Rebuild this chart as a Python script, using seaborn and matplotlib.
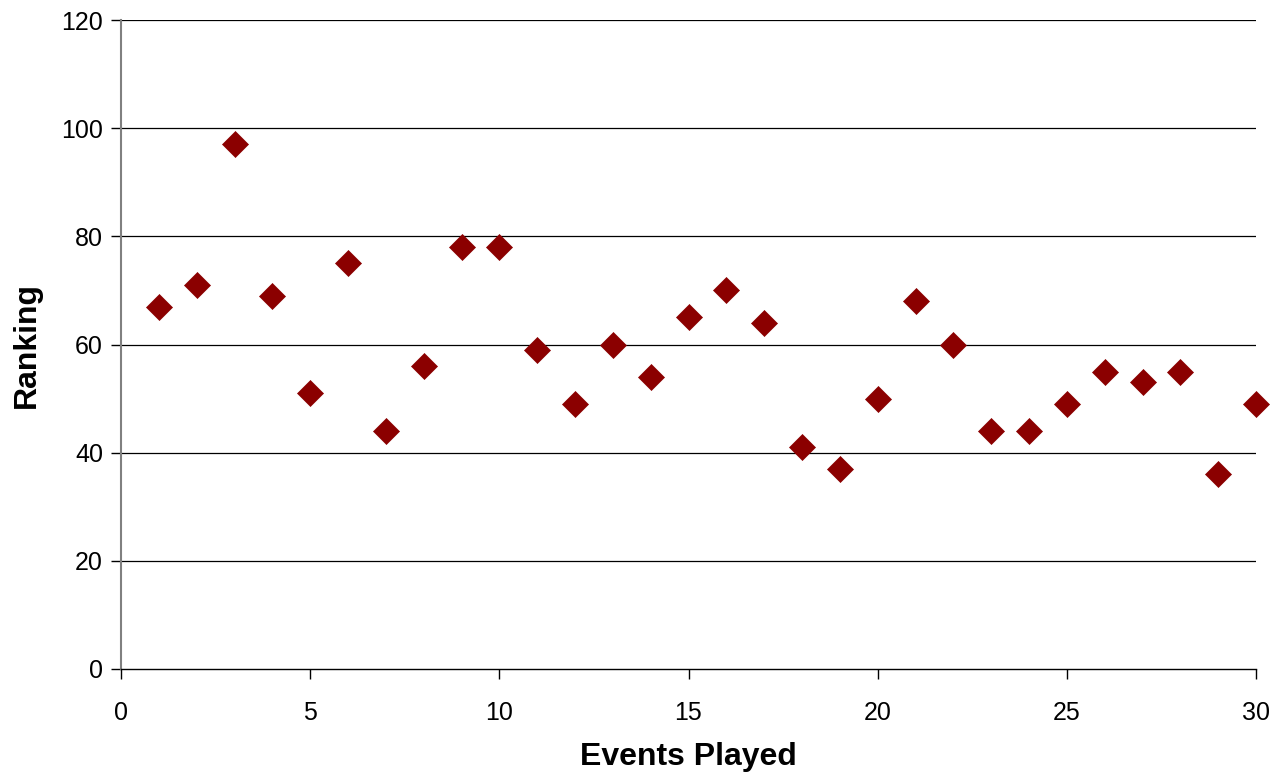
import matplotlib
matplotlib.use("Agg")
import numpy as np
import pandas as pd
import seaborn as sns
import matplotlib.pyplot as plt

events = list(range(1, 31))
ranking = [67, 71, 97, 69, 51, 75, 44, 56, 78, 78,
           59, 49, 60, 54, 65, 70, 64, 41, 37, 50,
           68, 60, 44, 44, 49, 55, 53, 55, 36, 49]
x_ticks = [0, 5, 10, 15, 20, 25, 30]
y_ticks = [0, 20, 40, 60, 80, 100, 120]

df = pd.DataFrame({'Events Played': events, 'Ranking': ranking})

sns.set_style("white")
plt.rcParams['font.family'] = ['Liberation Sans', 'DejaVu Sans']
plt.rcParams['text.color'] = 'black'
plt.rcParams['axes.labelcolor'] = 'black'
plt.rcParams['xtick.color'] = 'black'
plt.rcParams['ytick.color'] = 'black'

fig = plt.figure(figsize=(12.83, 7.74), dpi=100)
ax = fig.add_axes([121 / 1283, 1 - 669 / 774, (1256 - 121) / 1283, (669 - 20) / 774])

# horizontal gridlines like the original
for yv in y_ticks[1:]:
    ax.axhline(yv, color='black', lw=0.9, zorder=0)

sns.scatterplot(data=df, x='Events Played', y='Ranking', marker='D', s=175,
                color='#8b0000', edgecolor='#8b0000', linewidth=0.5, ax=ax,
                zorder=3, clip_on=False)

ax.set_xlim(0, 30)
ax.set_ylim(0, 120)
ax.set_xticks(x_ticks)
ax.set_yticks(y_ticks)
ax.tick_params(axis='both', labelsize=18, direction='out', length=7,
               width=1, colors='black', left=True, bottom=True)
ax.tick_params(axis='x', pad=16)
ax.tick_params(axis='y', pad=6)
for s in ['top', 'right']:
    ax.spines[s].set_visible(False)
ax.spines['left'].set_color('#808080')
ax.spines['left'].set_linewidth(1.5)
ax.spines['bottom'].set_color('black')
ax.spines['bottom'].set_linewidth(1)

ax.set_xlabel('Events Played', fontsize=23, fontweight='bold', labelpad=12)
ax.set_ylabel('Ranking', fontsize=23, fontweight='bold', labelpad=14)

fig.savefig('out.png', dpi=100)
